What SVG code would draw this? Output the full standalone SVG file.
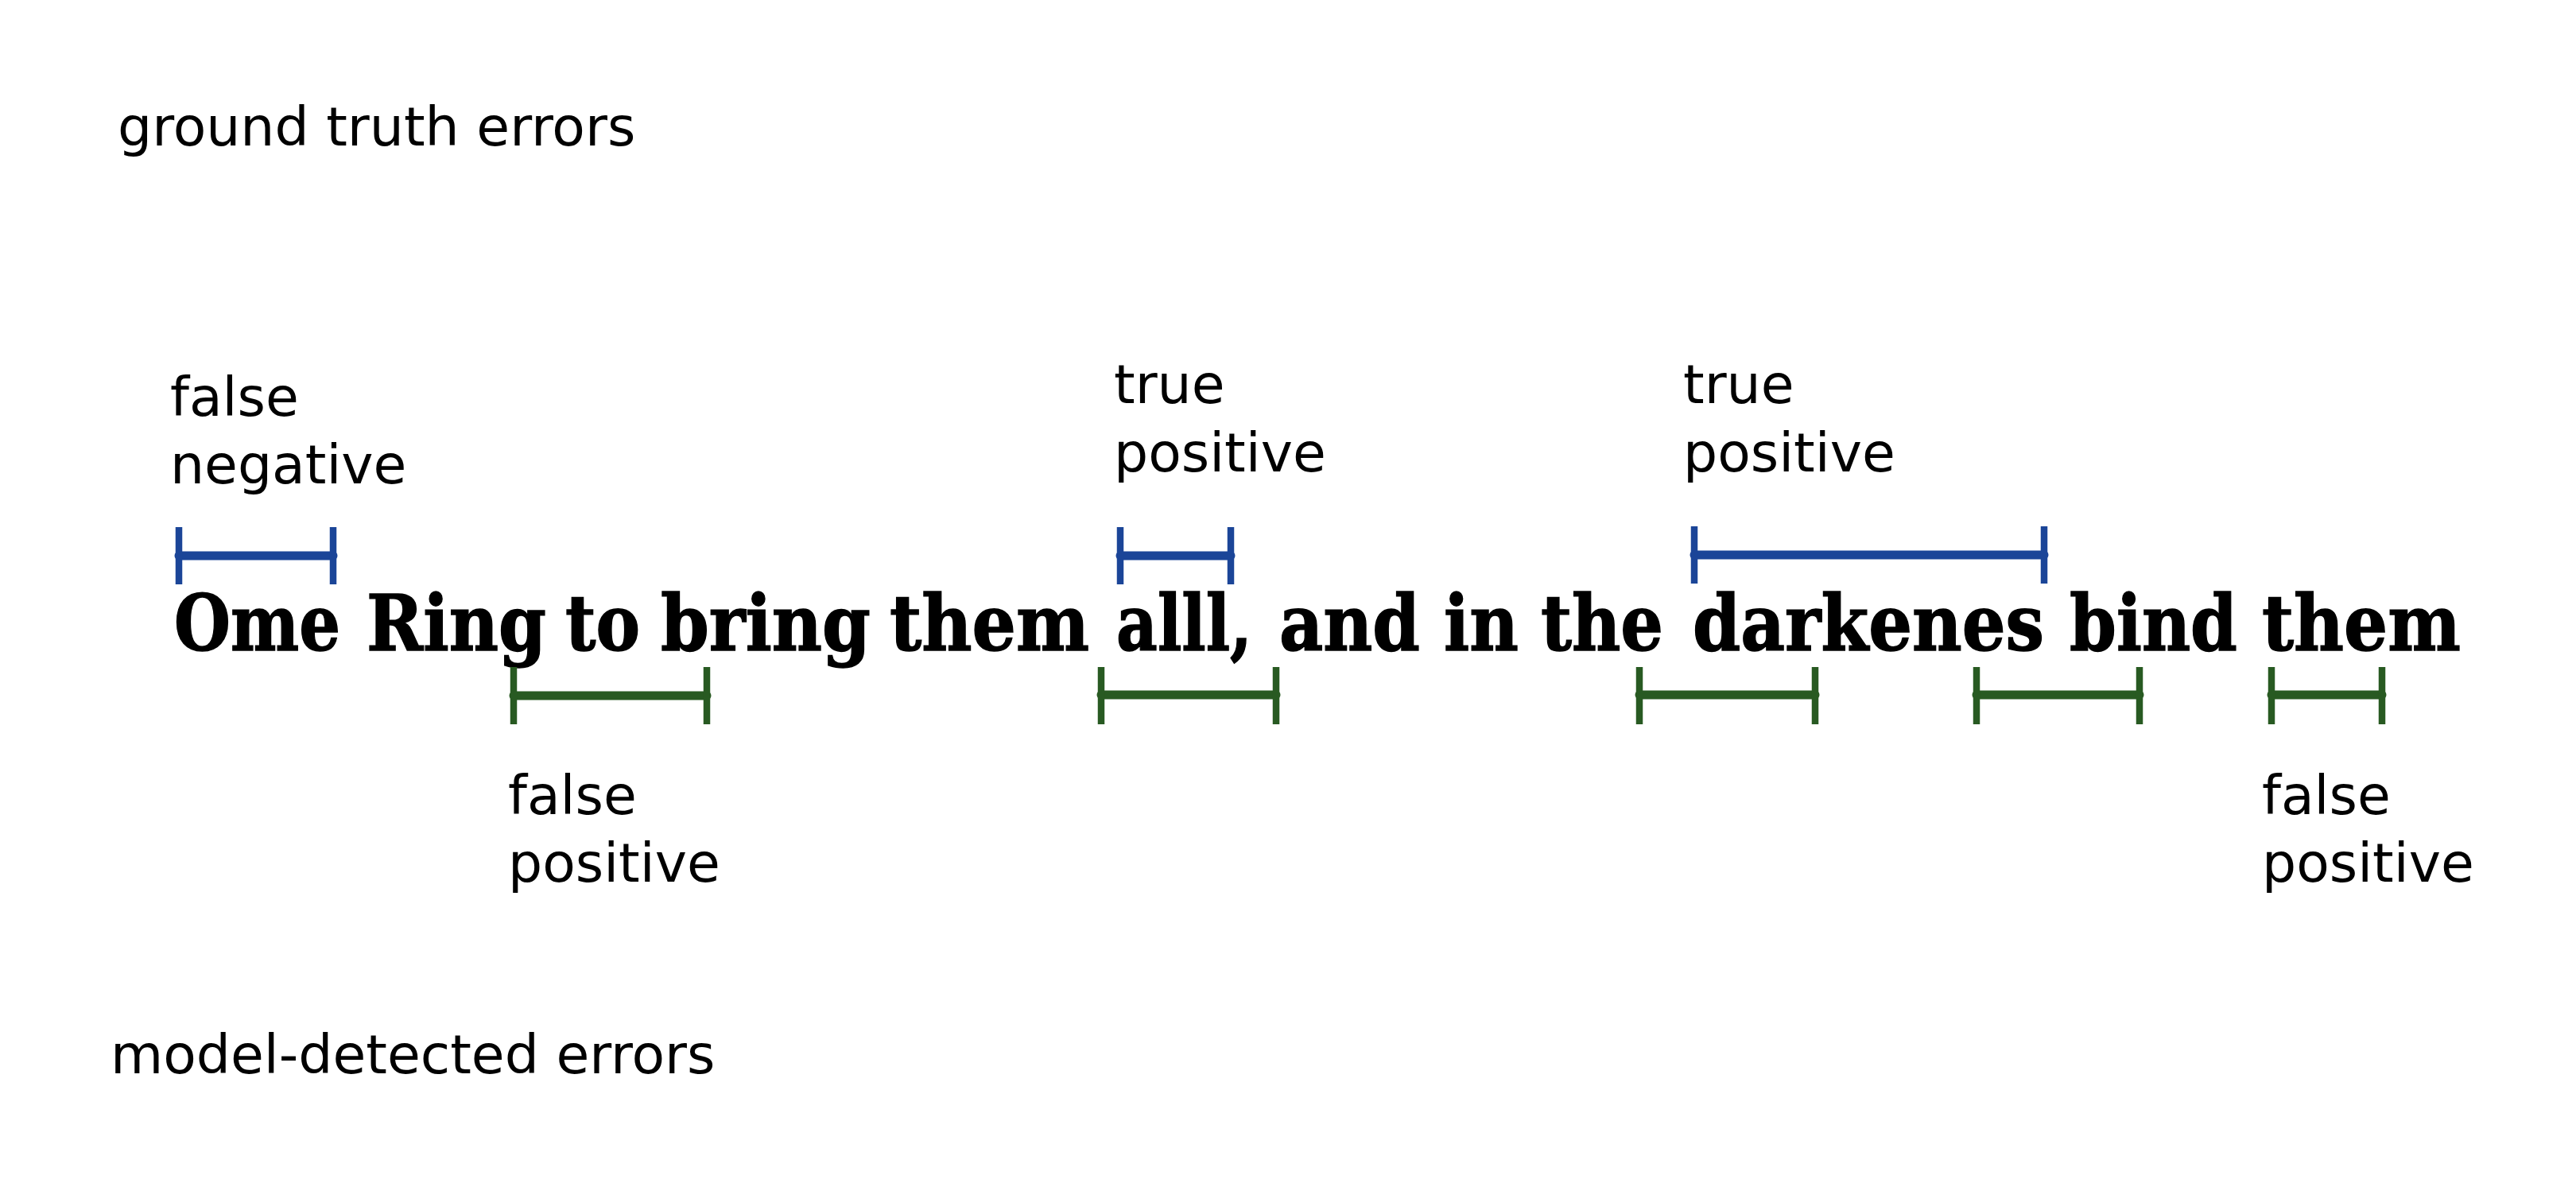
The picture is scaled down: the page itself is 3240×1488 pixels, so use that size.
<svg xmlns="http://www.w3.org/2000/svg" width="3240" height="1488" viewBox="0 0 3240 1488">
<style>
.lbl{font-family:"DejaVu Sans","Verdana",sans-serif;font-size:68px;fill:#000}
.main{font-family:"DejaVu Serif",serif;font-weight:bold;font-size:97px;fill:#000;stroke:#000;stroke-width:1.5}
.gt line.h{stroke:#1b4598;stroke-width:11;stroke-linecap:round}
.gt line.v{stroke:#1b4598;stroke-width:8.5}
.md line.h{stroke:#285a22;stroke-width:11;stroke-linecap:round}
.md line.v{stroke:#285a22;stroke-width:8.5}
</style>
<rect width="3240" height="1488" fill="#fff"/>
<g id="title-ground-truth"><text class="lbl" x="148" y="183">ground truth errors</text></g>
<g id="title-model"><text class="lbl" x="139" y="1350">model-detected errors</text></g>

<g id="label-fn"><text class="lbl" x="214" y="523">false</text><text class="lbl" x="214" y="608">negative</text></g>
<g id="label-tp1"><text class="lbl" x="1401" y="507">true</text><text class="lbl" x="1401" y="593">positive</text></g>
<g id="label-tp2"><text class="lbl" x="2117" y="507">true</text><text class="lbl" x="2117" y="593">positive</text></g>
<g id="label-fp1"><text class="lbl" x="639" y="1024">false</text><text class="lbl" x="639" y="1109">positive</text></g>
<g id="label-fp2"><text class="lbl" x="2845" y="1024">false</text><text class="lbl" x="2845" y="1109">positive</text></g>

<g id="sentence" class="main">
<text x="219" y="818" textLength="209" lengthAdjust="spacingAndGlyphs">Ome</text>
<text x="461" y="818" textLength="226" lengthAdjust="spacingAndGlyphs">Ring</text>
<text x="711" y="818" textLength="94" lengthAdjust="spacingAndGlyphs">to</text>
<text x="831" y="818" textLength="264" lengthAdjust="spacingAndGlyphs">bring</text>
<text x="1119" y="818" textLength="251" lengthAdjust="spacingAndGlyphs">them</text>
<text x="1404" y="818" textLength="171" lengthAdjust="spacingAndGlyphs">alll,</text>
<text x="1609" y="818" textLength="177" lengthAdjust="spacingAndGlyphs">and</text>
<text x="1816" y="818" textLength="94" lengthAdjust="spacingAndGlyphs">in</text>
<text x="1938" y="818" textLength="154" lengthAdjust="spacingAndGlyphs">the</text>
<text x="2129" y="818" textLength="442" lengthAdjust="spacingAndGlyphs">darkenes</text>
<text x="2603" y="818" textLength="211" lengthAdjust="spacingAndGlyphs">bind</text>
<text x="2845" y="818" textLength="250" lengthAdjust="spacingAndGlyphs">them</text>
</g>

<g id="connectors">
<g id="gt-spans" class="gt">
<g id="gt1"><line class="h" x1="225" y1="699" x2="419" y2="699"/><line class="v" x1="225" y1="663" x2="225" y2="735"/><line class="v" x1="419" y1="663" x2="419" y2="735"/></g>
<g id="gt2"><line class="h" x1="1409" y1="699" x2="1548" y2="699"/><line class="v" x1="1409" y1="663" x2="1409" y2="735"/><line class="v" x1="1548" y1="663" x2="1548" y2="735"/></g>
<g id="gt3"><line class="h" x1="2131" y1="698" x2="2571" y2="698"/><line class="v" x1="2131" y1="662" x2="2131" y2="734"/><line class="v" x1="2571" y1="662" x2="2571" y2="734"/></g>
</g>
<g id="md-spans" class="md">
<g id="md1"><line class="h" x1="646" y1="875" x2="889" y2="875"/><line class="v" x1="646" y1="839" x2="646" y2="911"/><line class="v" x1="889" y1="839" x2="889" y2="911"/></g>
<g id="md2"><line class="h" x1="1385" y1="874" x2="1605" y2="874"/><line class="v" x1="1385" y1="839" x2="1385" y2="911"/><line class="v" x1="1605" y1="839" x2="1605" y2="911"/></g>
<g id="md3"><line class="h" x1="2062" y1="874" x2="2283" y2="874"/><line class="v" x1="2062" y1="839" x2="2062" y2="911"/><line class="v" x1="2283" y1="839" x2="2283" y2="911"/></g>
<g id="md4"><line class="h" x1="2486" y1="874" x2="2691" y2="874"/><line class="v" x1="2486" y1="839" x2="2486" y2="911"/><line class="v" x1="2691" y1="839" x2="2691" y2="911"/></g>
<g id="md5"><line class="h" x1="2857" y1="874" x2="2996" y2="874"/><line class="v" x1="2857" y1="839" x2="2857" y2="911"/><line class="v" x1="2996" y1="839" x2="2996" y2="911"/></g>
</g>
</g>
</svg>
